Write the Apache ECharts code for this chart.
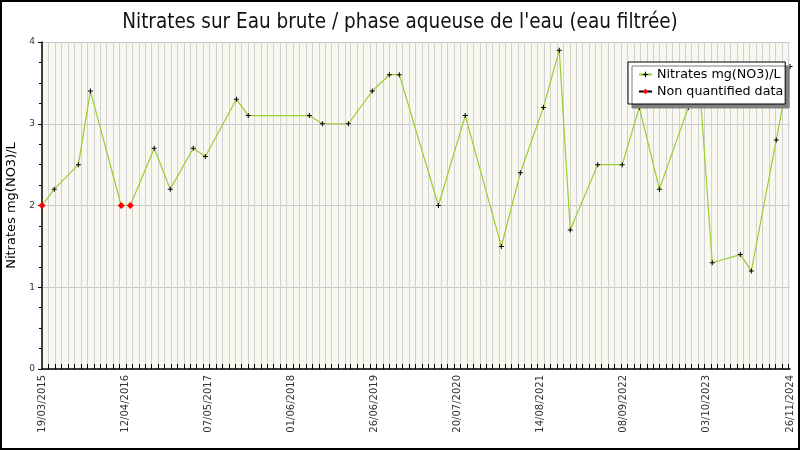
<!DOCTYPE html>
<html>
<head>
<meta charset="utf-8">
<script src="https://cdn.jsdelivr.net/npm/echarts@6/dist/echarts.min.js"></script>
<style>
  html, body { margin: 0; padding: 0; background: #fff; }
  #chart { width: 800px; height: 450px; }
</style>
</head>
<body>
<div id="chart"></div>
<script>
// sampling dates and measured values
const sampleDates = [
  '2015-03-19', '2015-05-16', '2015-09-07', '2015-11-03', '2016-03-28', '2016-05-10',
  '2016-08-31', '2016-11-15', '2017-03-04', '2017-04-30', '2017-09-24', '2017-11-19',
  '2018-09-04', '2018-11-05', '2019-03-08', '2019-06-29', '2019-09-18', '2019-11-04',
  '2020-05-07', '2020-09-11', '2021-03-01', '2021-05-30', '2021-09-16', '2021-11-30',
  '2022-01-21', '2022-05-31', '2022-09-24', '2022-12-14', '2023-03-19', '2023-08-03',
  '2023-09-30', '2023-11-24', '2024-04-05', '2024-05-27', '2024-09-22', '2024-11-26'
];
const nitrates = [
  2.0, 2.2, 2.5, 3.4, 2.0, 2.0,
  2.7, 2.2, 2.7, 2.6, 3.3, 3.1,
  3.1, 3.0, 3.0, 3.4, 3.6, 3.6,
  2.0, 3.1, 1.5, 2.4, 3.2, 3.9,
  1.7, 2.5, 2.5, 3.2, 2.2, 3.2,
  3.3, 1.3, 1.4, 1.2, 2.8, 3.7
];

// non quantified points
const nqDates = ['2015-03-19', '2016-03-28', '2016-05-10'];
const nqValues = [2.0, 2.0, 2.0];

const tickLabels = [
  '19/03/2015', '12/04/2016', '07/05/2017', '01/06/2018', '26/06/2019',
  '20/07/2020', '14/08/2021', '08/09/2022', '03/10/2023', '26/11/2024'
];

const ts = d => new Date(d).getTime();
const minDate = ts('2015-03-19');
const maxDate = ts('2024-11-26');
const labelStep = (maxDate - minDate) / (tickLabels.length - 1);
const labelValues = tickLabels.map((_, i) => minDate + i * labelStep);

// monthly grid
const monthTicks = [];
for (let y = 2015, m = 3; ; m++) {
  if (m > 11) { m = 0; y++; }
  const t = Date.UTC(y, m, 19);
  if (t >= maxDate) break;
  monthTicks.push(t);
}

// isolated points (gap after each one so no line joins them)
const nqData = [];
nqDates.forEach((d, i) => {
  nqData.push([ts(d), nqValues[i]]);
  nqData.push([ts(d), '-']);
});

const plusSymbol = 'path://M2,0H3V2H5V3H3V5H2V3H0V2H2Z';
const font = 'DejaVu Sans';

const chart = echarts.init(document.getElementById('chart'));

chart.setOption({
  animation: false,
  backgroundColor: '#fff',
  title: {
    text: "Nitrates sur Eau brute / phase aqueuse de l'eau (eau filtrée)",
    left: 'center',
    top: 7,
    textStyle: { fontFamily: 'DejaVu Sans Condensed', fontSize: 20.5, fontWeight: 'normal', color: '#111' }
  },
  graphic: [{
    type: 'rect',
    shape: { x: 1, y: 1, width: 798, height: 448 },
    style: { fill: 'none', stroke: '#000', lineWidth: 2 },
    z: 100
  }],
  legend: {
    orient: 'vertical',
    left: 628,
    top: 62,
    padding: [5, 2, 5, 10],
    itemGap: 2,
    itemWidth: 13,
    itemHeight: 7,
    backgroundColor: '#fff',
    borderColor: '#000',
    borderWidth: 1,
    shadowColor: '#808080',
    shadowBlur: 0,
    shadowOffsetX: 4,
    shadowOffsetY: 4,
    textStyle: { fontFamily: font, fontSize: 12.7, color: '#000', lineHeight: 15 },
    data: ['Nitrates mg(NO3)/L', 'Non quantified data']
  },
  grid: {
    left: 42, right: 10, top: 42, bottom: 81,
    outerBoundsMode: 'none',
    containLabel: false,
    show: true, backgroundColor: '#f8f8f0', borderWidth: 0
  },
  xAxis: {
    type: 'value',
    min: minDate,
    max: maxDate,
    axisLine: { lineStyle: { color: '#000', width: 1.5 } },
    axisTick: { show: true, inside: true, length: 5, customValues: monthTicks, lineStyle: { color: '#000' } },
    splitLine: { show: true, lineStyle: { color: '#d2d2d2', width: 1 } },
    axisLabel: {
      customValues: labelValues,
      rotate: 90,
      margin: 6,
      fontFamily: font,
      fontSize: 10,
      color: '#333',
      formatter: function (val) {
        const k = Math.round((val - minDate) / labelStep);
        return tickLabels[k] || '';
      }
    }
  },
  yAxis: {
    type: 'value',
    min: 0,
    max: 4,
    interval: 1,
    name: 'Nitrates mg(NO3)/L',
    nameLocation: 'middle',
    nameGap: 21,
    nameTextStyle: { fontFamily: font, fontSize: 13, color: '#000' },
    axisLine: { show: true, lineStyle: { color: '#000', width: 1.5 } },
    axisTick: { show: true, length: 4, lineStyle: { color: '#000' } },
    minorTick: { show: true, splitNumber: 4, length: 3, lineStyle: { color: '#000' } },
    splitLine: { show: true, lineStyle: { color: '#c8c8c8' } },
    axisLabel: { fontFamily: font, fontSize: 9, color: '#333', margin: 7 }
  },
  series: [
    {
      name: 'Nitrates mg(NO3)/L',
      type: 'line',
      data: sampleDates.map((d, i) => [ts(d), nitrates[i]]),
      symbol: plusSymbol,
      symbolSize: 5,
      itemStyle: { color: '#000' },
      lineStyle: { color: '#9acd32', width: 1.2 },
      z: 3
    },
    {
      name: 'Non quantified data',
      type: 'line',
      data: nqData,
      connectNulls: false,
      symbol: 'diamond',
      symbolSize: 7,
      itemStyle: { color: '#ff0000' },
      lineStyle: { color: '#000', width: 1 },
      z: 4
    }
  ]
});
</script>
</body>
</html>
